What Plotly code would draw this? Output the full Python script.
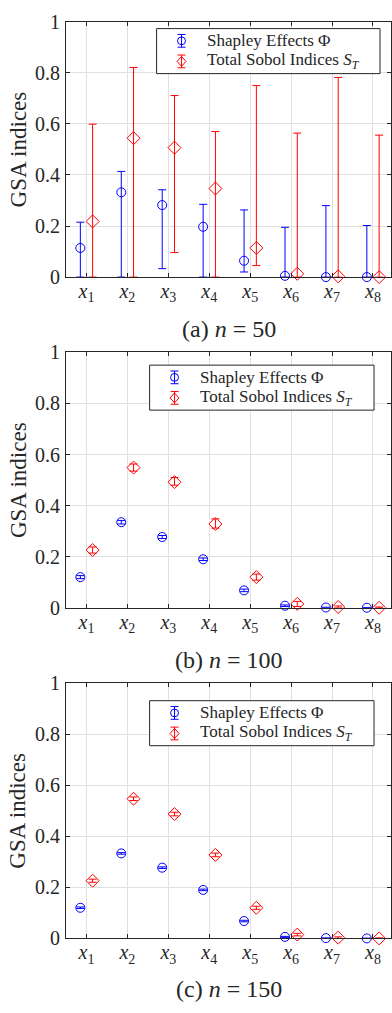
import plotly.graph_objects as go

# Input variables
variables = ["x1", "x2", "x3", "x4", "x5", "x6", "x7", "x8"]
var_labels = ["<i>x</i><sub>%d</sub>" % k for k in range(1, 9)]

# Sample sizes for the three panels
panel_tags = ["(a)", "(b)", "(c)"]
sample_sizes = [50, 100, 150]

# Series names
shapley_name = "Shapley Effects Φ"
sobol_name = "Total Sobol Indices <i>S</i><sub><i>T</i></sub>"

# Shapley effects (estimate, upper error, lower error) per sample size
shapley_n50 = [0.114, 0.332, 0.282, 0.197, 0.064, 0.005, 0.000, 0.000]
shapley_n50_up = [0.101, 0.082, 0.060, 0.088, 0.199, 0.190, 0.280, 0.202]
shapley_n50_lo = [0.114, 0.332, 0.249, 0.197, 0.044, 0.005, 0.000, 0.000]

shapley_n100 = [0.120, 0.335, 0.277, 0.190, 0.068, 0.008, 0.001, 0.000]
shapley_n100_up = [0.006, 0.007, 0.006, 0.005, 0.005, 0.003, 0.001, 0.001]
shapley_n100_lo = [0.006, 0.007, 0.006, 0.005, 0.005, 0.003, 0.001, 0.000]

shapley_n150 = [0.120, 0.333, 0.277, 0.190, 0.068, 0.006, 0.001, 0.000]
shapley_n150_up = [0.003, 0.003, 0.003, 0.003, 0.003, 0.002, 0.001, 0.001]
shapley_n150_lo = [0.003, 0.003, 0.003, 0.003, 0.003, 0.002, 0.001, 0.000]

# Total Sobol indices (estimate, upper error, lower error) per sample size
sobol_n50 = [0.218, 0.544, 0.507, 0.347, 0.114, 0.013, 0.003, 0.000]
sobol_n50_up = [0.381, 0.277, 0.204, 0.223, 0.636, 0.551, 0.779, 0.556]
sobol_n50_lo = [0.218, 0.544, 0.411, 0.347, 0.069, 0.013, 0.003, 0.000]

sobol_n100 = [0.226, 0.549, 0.492, 0.328, 0.120, 0.015, 0.003, 0.000]
sobol_n100_up = [0.012, 0.014, 0.018, 0.020, 0.012, 0.010, 0.004, 0.003]
sobol_n100_lo = [0.012, 0.014, 0.012, 0.016, 0.012, 0.010, 0.003, 0.000]

sobol_n150 = [0.226, 0.547, 0.487, 0.327, 0.120, 0.015, 0.003, 0.000]
sobol_n150_up = [0.006, 0.007, 0.007, 0.007, 0.006, 0.005, 0.003, 0.002]
sobol_n150_lo = [0.006, 0.007, 0.007, 0.007, 0.006, 0.005, 0.003, 0.000]

shapley_sets = [
    (shapley_n50, shapley_n50_up, shapley_n50_lo),
    (shapley_n100, shapley_n100_up, shapley_n100_lo),
    (shapley_n150, shapley_n150_up, shapley_n150_lo),
]
sobol_sets = [
    (sobol_n50, sobol_n50_up, sobol_n50_lo),
    (sobol_n100, sobol_n100_up, sobol_n100_lo),
    (sobol_n150, sobol_n150_up, sobol_n150_lo),
]

W, H = 392, 1013
FONT = "Liberation Serif"
TEXT_COLOR = "#262626"
AXIS_COLOR = "#262626"
GRID_COLOR = "#e0e0e0"
BLUE = "#0000ff"
RED = "#ff0000"

# Plot-area pixel boxes (top, bottom) for each panel
panel_px = [(11, 272), (349, 610), (687, 948)]
title_px = [325, 663, 1000]
# Legend boxes in pixels: (left, top, right, bottom)
legend_box = [(157, 18, 381, 64), (150, 362, 375, 408), (150, 705, 375, 751)]
x_left_px = 66.2


def px(p):
    return p / W


def py(p):
    return 1 - p / H


pos = list(range(1, len(variables) + 1))
offset = 0.15

fig = go.Figure()
shapes = []

for i in range(3):
    xa = "x" if i == 0 else "x%d" % (i + 1)
    ya = "y" if i == 0 else "y%d" % (i + 1)
    sv, su, sl = shapley_sets[i]
    tv, tu, tl = sobol_sets[i]
    fig.add_trace(go.Scatter(
        x=[p - offset for p in pos], y=sv, mode="markers",
        name=shapley_name, showlegend=False, xaxis=xa, yaxis=ya,
        marker=dict(symbol="circle-open", size=9, color=BLUE, line=dict(width=1, color=BLUE)),
        error_y=dict(type="data", symmetric=False, array=su, arrayminus=sl,
                     color=BLUE, thickness=1, width=4),
        cliponaxis=False,
    ))
    fig.add_trace(go.Scatter(
        x=[p + offset for p in pos], y=tv, mode="markers",
        name=sobol_name, showlegend=False, xaxis=xa, yaxis=ya,
        marker=dict(symbol="diamond-open", size=10, color=RED, line=dict(width=1, color=RED)),
        error_y=dict(type="data", symmetric=False, array=tu, arrayminus=tl,
                     color=RED, thickness=1, width=4),
        cliponaxis=False,
    ))

    top, bot = panel_px[i]
    axis_common = dict(
        showline=True, linecolor=AXIS_COLOR, linewidth=1, mirror="allticks",
        ticks="inside", ticklen=4, tickcolor=AXIS_COLOR, tickwidth=1,
        showgrid=True, gridcolor=GRID_COLOR, gridwidth=1, zeroline=False,
    )
    fig.update_layout(**{
        ("xaxis" if i == 0 else "xaxis%d" % (i + 1)): dict(
            axis_common, domain=[x_left_px / W, 1.0], range=[0.5, 8.44],
            tickvals=pos, ticktext=var_labels, anchor=ya,
            tickfont=dict(family=FONT, size=20, color=TEXT_COLOR),
            ticklabelstandoff=-4,
        ),
        ("yaxis" if i == 0 else "yaxis%d" % (i + 1)): dict(
            axis_common, domain=[py(bot), py(top)], range=[0, 1], anchor=xa,
            tickvals=[0, 0.2, 0.4, 0.6, 0.8, 1.0],
            ticktext=["0", "0.2", "0.4", "0.6", "0.8", "1"],
            tickfont=dict(family=FONT, size=20, color=TEXT_COLOR),
            ticklabelstandoff=1,
        ),
    })

    # Panel caption
    fig.add_annotation(
        text="%s <i>n</i> = %d" % (panel_tags[i], sample_sizes[i]),
        xref="paper", yref="paper", x=px((x_left_px + 392) / 2), y=py(title_px[i]),
        xanchor="center", yanchor="middle", showarrow=False,
        font=dict(family=FONT, size=24, color=TEXT_COLOR),
    )
    # Y-axis title
    fig.add_annotation(
        text="GSA indices", textangle=-90,
        xref="paper", yref="paper", x=px(18), y=py((top + bot) / 2),
        xanchor="center", yanchor="middle", showarrow=False,
        font=dict(family=FONT, size=23, color=TEXT_COLOR),
    )

    # Legend box with error-bar glyphs
    L, T, R, B = legend_box[i]
    shapes.append(dict(type="rect", xref="paper", yref="paper",
                       x0=px(L), x1=px(R), y0=py(B), y1=py(T),
                       line=dict(color=AXIS_COLOR, width=1), fillcolor="white", layer="above"))
    icon_x = L + 25
    rows = [(T + 12.5, shapley_name, BLUE, "circle"), (T + 33.5, sobol_name, RED, "diamond")]
    for cy, label, col, sym in rows:
        # vertical bar with caps
        shapes.append(dict(type="line", xref="paper", yref="paper",
                           x0=px(icon_x), x1=px(icon_x), y0=py(cy - 6.5), y1=py(cy + 6.5),
                           line=dict(color=col, width=1), layer="above"))
        for cap in (cy - 6.5, cy + 6.5):
            shapes.append(dict(type="line", xref="paper", yref="paper",
                               x0=px(icon_x - 4), x1=px(icon_x + 4), y0=py(cap), y1=py(cap),
                               line=dict(color=col, width=1), layer="above"))
        if sym == "circle":
            shapes.append(dict(type="circle", xref="paper", yref="paper",
                               x0=px(icon_x - 4), x1=px(icon_x + 4), y0=py(cy + 4), y1=py(cy - 4),
                               line=dict(color=col, width=1), fillcolor="rgba(0,0,0,0)", layer="above"))
        else:
            path = "M %f %f L %f %f L %f %f L %f %f Z" % (
                px(icon_x), py(cy - 5), px(icon_x + 4.5), py(cy),
                px(icon_x), py(cy + 5), px(icon_x - 4.5), py(cy))
            shapes.append(dict(type="path", xref="paper", yref="paper", path=path,
                               line=dict(color=col, width=1), fillcolor="rgba(0,0,0,0)", layer="above"))
        fig.add_annotation(
            text=label, xref="paper", yref="paper", x=px(L + 49), y=py(cy),
            xanchor="left", yanchor="middle", showarrow=False,
            font=dict(family=FONT, size=17, color=TEXT_COLOR),
        )

fig.update_layout(
    width=W, height=H, margin=dict(l=0, r=0, t=0, b=0),
    paper_bgcolor="white", plot_bgcolor="white", showlegend=False,
    shapes=shapes,
)

fig.write_html("out.html")
